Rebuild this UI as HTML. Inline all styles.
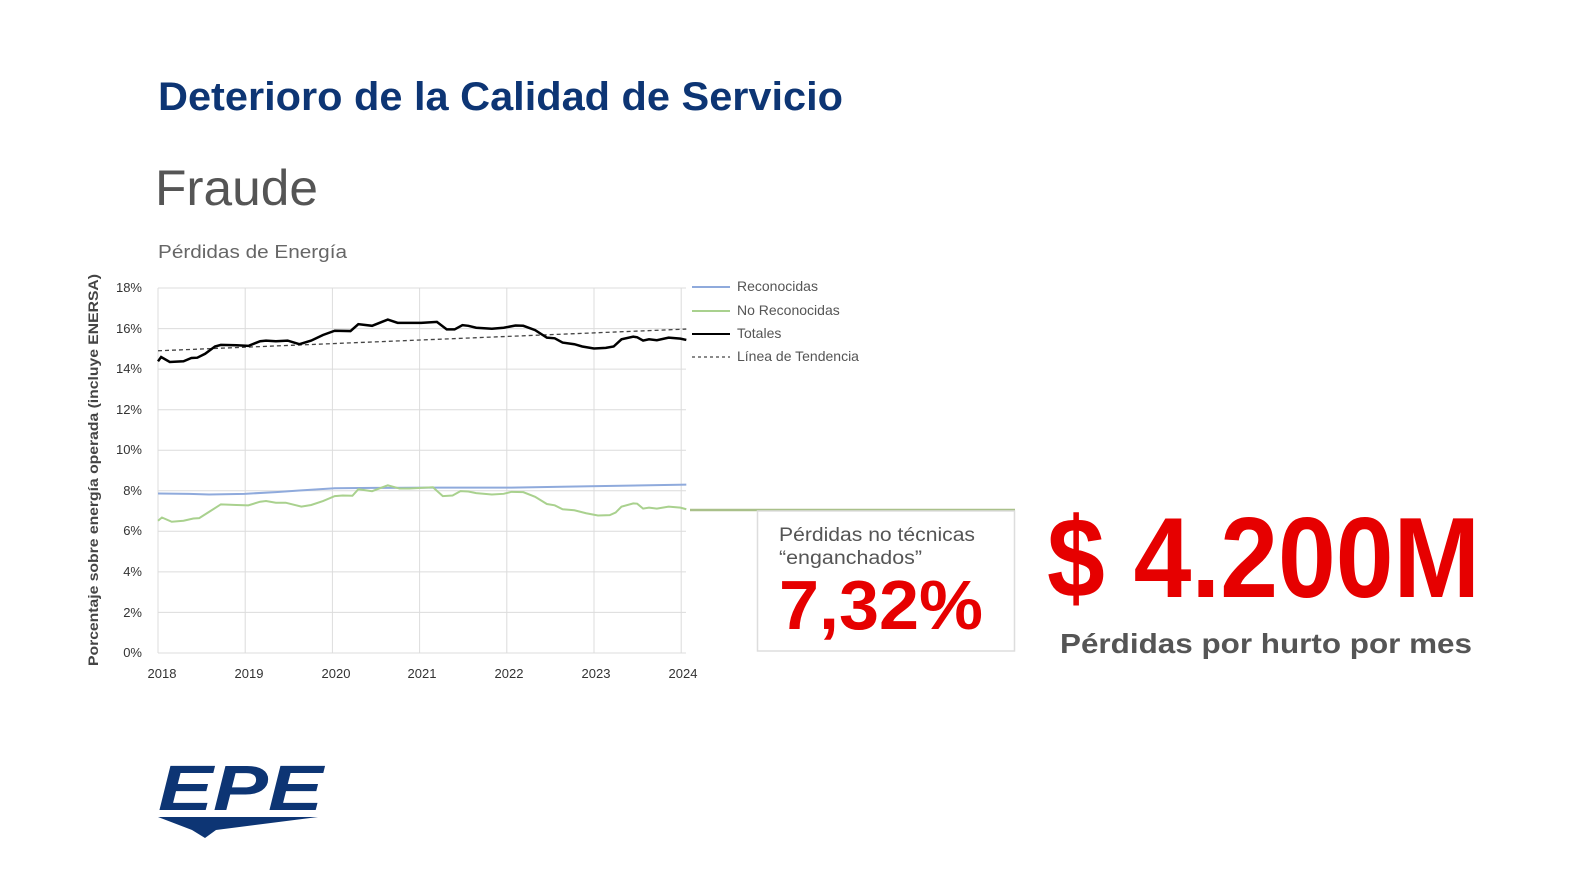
<!DOCTYPE html>
<html><head><meta charset="utf-8"><style>
html,body{margin:0;padding:0;background:#fff;}
svg{display:block;font-family:"Liberation Sans",sans-serif;}
</style></head><body>
<svg width="1585" height="885" viewBox="0 0 1585 885" xmlns="http://www.w3.org/2000/svg">
<rect width="1585" height="885" fill="#fff"/>
<text x="158" y="110" font-size="40" font-weight="bold" fill="#0d3574" textLength="685" lengthAdjust="spacingAndGlyphs">Deterioro de la Calidad de Servicio</text>
<text x="155" y="205" font-size="50" fill="#555" textLength="163" lengthAdjust="spacingAndGlyphs">Fraude</text>
<text x="158" y="258" font-size="18" fill="#666" textLength="189" lengthAdjust="spacingAndGlyphs">Pérdidas de Energía</text>
<!-- grid -->
<g stroke="#dcdcdc" stroke-width="1">
<line x1="158" y1="288" x2="686" y2="288"/><line x1="158" y1="328.6" x2="686" y2="328.6"/>
<line x1="158" y1="369.1" x2="686" y2="369.1"/><line x1="158" y1="409.7" x2="686" y2="409.7"/>
<line x1="158" y1="450.2" x2="686" y2="450.2"/><line x1="158" y1="490.8" x2="686" y2="490.8"/>
<line x1="158" y1="531.3" x2="686" y2="531.3"/><line x1="158" y1="571.9" x2="686" y2="571.9"/>
<line x1="158" y1="612.4" x2="686" y2="612.4"/><line x1="158" y1="653" x2="686" y2="653"/>
<line x1="158" y1="288" x2="158" y2="653"/><line x1="245.2" y1="288" x2="245.2" y2="653"/>
<line x1="332.4" y1="288" x2="332.4" y2="653"/><line x1="419.6" y1="288" x2="419.6" y2="653"/>
<line x1="506.8" y1="288" x2="506.8" y2="653"/><line x1="594" y1="288" x2="594" y2="653"/>
<line x1="681.2" y1="288" x2="681.2" y2="653"/>
</g>
<g font-size="13" fill="#333" text-anchor="end">
<text x="142" y="292">18%</text><text x="142" y="333">16%</text><text x="142" y="373">14%</text>
<text x="142" y="414">12%</text><text x="142" y="454">10%</text><text x="142" y="495">8%</text>
<text x="142" y="535">6%</text><text x="142" y="576">4%</text><text x="142" y="617">2%</text>
<text x="142" y="657">0%</text>
</g>
<g font-size="13" fill="#333" text-anchor="middle">
<text x="162" y="678">2018</text><text x="249" y="678">2019</text><text x="336" y="678">2020</text>
<text x="422" y="678">2021</text><text x="509" y="678">2022</text><text x="596" y="678">2023</text>
<text x="683" y="678">2024</text>
</g>
<text transform="translate(98,470) rotate(-90)" font-size="13.5" font-weight="bold" fill="#444" text-anchor="middle" textLength="392" lengthAdjust="spacingAndGlyphs">Porcentaje sobre energía operada (incluye ENERSA)</text>
<g transform="translate(79.44,267.6) scale(0.3928,0.3288)" fill="none">
<polyline vector-effect="non-scaling-stroke" stroke="#8faadc" stroke-width="2" points="200,687 280,688 330,690 420,688 500,683 560,678 650,671 750,670 900,669 1100,669 1300,665 1545,660"/>
<polyline vector-effect="non-scaling-stroke" stroke="#a9d18e" stroke-width="2" points="200,770 210,760 235,773 265,770 290,763 305,762 330,743 360,720 400,722 430,723 460,712 475,710 500,715 525,715 565,727 590,722 620,710 650,695 670,693 695,694 710,674 745,680 785,662 815,672 840,672 870,670 900,668 925,695 950,693 970,680 990,681 1010,686 1050,690 1080,688 1100,682 1130,683 1160,697 1190,719 1210,723 1230,735 1260,738 1290,747 1320,754 1350,753 1365,745 1380,727 1410,717 1420,718 1435,733 1450,730 1470,733 1500,727 1530,730 1545,735"/>
<line vector-effect="non-scaling-stroke" stroke="#444" stroke-width="1.3" stroke-dasharray="4,3" x1="200" y1="253" x2="1545" y2="187"/>
<polyline vector-effect="non-scaling-stroke" stroke="#000" stroke-width="2.5" points="200,285 208,272 230,287 265,285 285,275 300,274 320,262 345,240 360,235 400,236 430,238 460,224 475,222 500,224 530,222 560,233 590,222 620,205 650,192 690,193 710,172 745,177 785,158 810,168 870,168 910,165 935,188 955,188 975,175 990,177 1010,183 1050,186 1080,183 1110,176 1130,177 1160,190 1190,213 1210,215 1230,228 1260,233 1280,240 1310,246 1340,244 1360,240 1380,218 1410,210 1420,212 1435,222 1450,218 1470,221 1500,213 1530,216 1545,220"/>
</g>
<!-- legend -->
<line x1="692" y1="287" x2="730" y2="287" stroke="#8faadc" stroke-width="2"/>
<line x1="692" y1="311" x2="730" y2="311" stroke="#a9d18e" stroke-width="2"/>
<line x1="692" y1="334" x2="730" y2="334" stroke="#000" stroke-width="2"/>
<line x1="692" y1="357" x2="730" y2="357" stroke="#444" stroke-width="1.3" stroke-dasharray="3,3"/>
<g font-size="14" fill="#555">
<text x="737" y="291">Reconocidas</text><text x="737" y="315">No Reconocidas</text>
<text x="737" y="338">Totales</text><text x="737" y="361">Línea de Tendencia</text>
</g>
<!-- callout -->
<line x1="690" y1="510" x2="1015" y2="510" stroke="#a9c08a" stroke-width="2.5"/>
<rect x="757.5" y="511" width="257" height="140" fill="none" stroke="#ddd" stroke-width="1.5"/>
<text x="779" y="541" font-size="19" fill="#555" textLength="196" lengthAdjust="spacingAndGlyphs">Pérdidas no técnicas</text>
<text x="779" y="564" font-size="19" fill="#555" textLength="143" lengthAdjust="spacingAndGlyphs">“enganchados”</text>
<text x="779" y="629" font-size="70" font-weight="bold" fill="#e60000" textLength="204" lengthAdjust="spacingAndGlyphs">7,32%</text>
<text x="1047" y="597" font-size="114" font-weight="bold" fill="#e60000" textLength="433" lengthAdjust="spacingAndGlyphs">$ 4.200M</text>
<text x="1060" y="653" font-size="28" font-weight="bold" fill="#555" textLength="412" lengthAdjust="spacingAndGlyphs">Pérdidas por hurto por mes</text>
<!-- logo -->
<text x="158" y="810" font-size="64" font-weight="bold" font-style="italic" fill="#0d3574" textLength="165" lengthAdjust="spacingAndGlyphs">EPE</text>
<polygon points="158,817 318,817 216,830 205,838 192,830" fill="#0d3574"/>
</svg>
</body></html>
